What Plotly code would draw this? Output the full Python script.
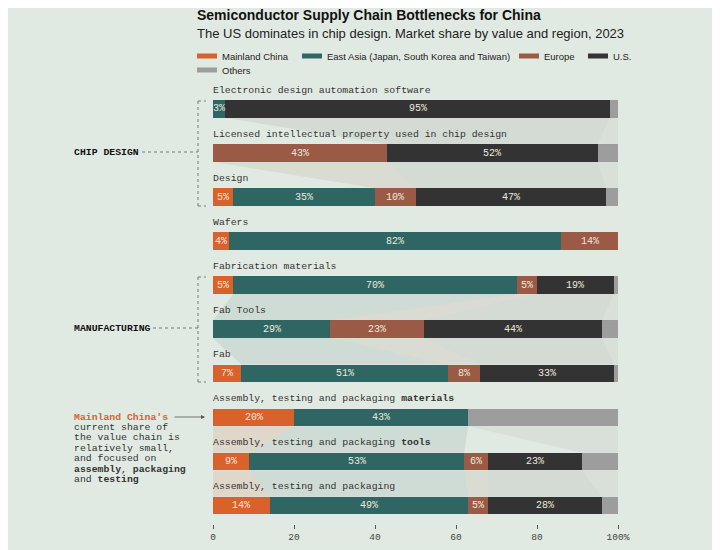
import plotly.graph_objects as go

# ---------------- data ----------------
rows = [
    "Electronic design automation software",
    "Licensed intellectual property used in chip design",
    "Design",
    "Wafers",
    "Fabrication materials",
    "Fab Tools",
    "Fab",
    "Assembly, testing and packaging <b>materials</b>",
    "Assembly, testing and packaging <b>tools</b>",
    "Assembly, testing and packaging",
]
row_group = [0, 0, 0, 1, 2, 2, 2, 3, 3, 3]

mainland_china = [0, 0, 5, 4, 5, 0, 7, 20, 9, 14]
east_asia = [3, 0, 35, 82, 70, 29, 51, 43, 53, 49]
europe = [0, 43, 10, 14, 5, 23, 8, 0, 6, 5]
us = [95, 52, 47, 0, 19, 44, 33, 0, 23, 28]
others = [2, 5, 3, 0, 1, 4, 1, 37, 9, 4]

series_names = ["Mainland China", "East Asia (Japan, South Korea and Taiwan)",
                "Europe", "U.S.", "Others"]
series_values = [mainland_china, east_asia, europe, us, others]
series_colors = ["#d9612c", "#2f6664", "#9b5a45", "#333333", "#9d9d9d"]
band_colors = ["rgba(217,97,44,0.13)", "rgba(47,102,100,0.10)",
               "rgba(155,90,69,0.10)", "rgba(51,51,51,0.08)",
               "rgba(120,120,120,0.08)"]
labelled = [True, True, True, True, False]

tick_vals = [0, 20, 40, 60, 80, 100]
tick_text = ["0", "20", "40", "60", "80", "100%"]

group_labels = ["CHIP DESIGN", "MANUFACTURING"]

# ---------------- style ----------------
BG = "#e1eae2"
MONO = "Liberation Mono, DejaVu Sans Mono, monospace"
SANS = "Liberation Sans, Arial, sans-serif"
W, H = 720, 550
OFF = 8  # page body margin
PL, PR, PT, PB = 213, 618, 80, 524  # plot box in screen pixels
L, T = PL - OFF, PT - OFF
R, B = W - (PR - OFF), H - (PB - OFF)
BAR_W = 0.40
y_idx = list(range(len(rows)))

def px(xp):
    return (xp - PL) / (PR - PL)

def py(yp):
    return (PB - yp) / (PB - PT)

fig = go.Figure()

# stacked bars
for name, vals, col in zip(series_names, series_values, series_colors):
    fig.add_trace(go.Bar(
        y=y_idx, x=vals, orientation="h", name=name,
        marker=dict(color=col, line=dict(width=0)),
        width=BAR_W, showlegend=False, hoverinfo="skip",
    ))

# cumulative starts
starts = []
for i in y_idx:
    s = 0
    row_starts = []
    for vals in series_values:
        row_starts.append(s)
        s += vals[i]
    starts.append(row_starts)

# flow bands between consecutive bars within a group
for i in y_idx[:-1]:
    j = i + 1
    if row_group[i] != row_group[j]:
        continue
    for k, vals in enumerate(series_values):
        if vals[i] > 0 and vals[j] > 0:
            a0, a1 = starts[i][k], starts[i][k] + vals[i]
            b0, b1 = starts[j][k], starts[j][k] + vals[j]
            yt, yb = i + BAR_W / 2, j - BAR_W / 2
            fig.add_trace(go.Scatter(
                x=[a0, a1, b1, b0, a0], y=[yt, yt, yb, yb, yt],
                mode="lines", fill="toself", fillcolor=band_colors[k],
                line=dict(width=0), showlegend=False, hoverinfo="skip",
            ))

annotations = []
shapes = []

# segment value labels
for i in y_idx:
    for k, vals in enumerate(series_values):
        v = vals[i]
        if v > 0 and labelled[k]:
            annotations.append(dict(
                x=starts[i][k] + v / 2, y=i, xref="x", yref="y",
                text=f"{v}%", showarrow=False,
                font=dict(family=MONO, size=10, color="#efe9dd"),
            ))

# row labels
for i, lab in enumerate(rows):
    annotations.append(dict(
        x=0, y=i - 0.43, xref="x", yref="y", text=lab, showarrow=False,
        xanchor="left", yanchor="middle", xshift=-2,
        font=dict(family=MONO, size=9.8, color="#333333"),
    ))

# title / subtitle
annotations.append(dict(
    x=px(197), y=py(15), xref="paper", yref="paper", xanchor="left",
    yanchor="middle", showarrow=False, xshift=-2,
    text="<b>Semiconductor Supply Chain Bottlenecks for China</b>",
    font=dict(family=SANS, size=14, color="#111111"),
))
annotations.append(dict(
    x=px(197), y=py(33), xref="paper", yref="paper", xanchor="left",
    yanchor="middle", showarrow=False, xshift=-2,
    text="The US dominates in chip design. Market share by value and region, 2023",
    font=dict(family=SANS, size=13, color="#222222"),
))

# manual legend
legend_pos = [(197, 56), (302, 56), (519, 56), (588, 56), (197, 70)]
for (lx, ly), name, col in zip(legend_pos, series_names, series_colors):
    shapes.append(dict(type="rect", xref="paper", yref="paper",
                       x0=px(lx), x1=px(lx + 20), y0=py(ly - 2.5), y1=py(ly + 2.5),
                       fillcolor=col, line=dict(width=0)))
    annotations.append(dict(
        x=px(lx + 25), y=py(ly), xref="paper", yref="paper", xanchor="left",
        yanchor="middle", showarrow=False, text=name, xshift=-2,
        font=dict(family=SANS, size=9.5, color="#222222"),
    ))

# group brackets
brackets = [(group_labels[0], 152, 101, 206, 142), (group_labels[1], 328, 277, 382, 153)]
dot = dict(color="#777777", width=1, dash="dot")
for lab, yc, y0, y1, lx_end in brackets:
    annotations.append(dict(
        x=px(74), y=py(yc), xref="paper", yref="paper", xanchor="left",
        yanchor="middle", showarrow=False, text=f"<b>{lab}</b>", xshift=-2,
        font=dict(family=MONO, size=9.8, color="#111111"),
    ))
    shapes.append(dict(type="line", xref="paper", yref="paper",
                       x0=px(lx_end), x1=px(198), y0=py(yc), y1=py(yc), line=dot))
    shapes.append(dict(type="line", xref="paper", yref="paper",
                       x0=px(198), x1=px(198), y0=py(y0), y1=py(y1), line=dot))
    shapes.append(dict(type="line", xref="paper", yref="paper",
                       x0=px(198), x1=px(206), y0=py(y0), y1=py(y0), line=dot))
    shapes.append(dict(type="line", xref="paper", yref="paper",
                       x0=px(198), x1=px(206), y0=py(y1), y1=py(y1), line=dot))

# Mainland China note
note_lines = [
    ("<b>Mainland China's</b>", "#d9612c"),
    ("current share of", "#333333"),
    ("the value chain is", "#333333"),
    ("relatively small,", "#333333"),
    ("and focused on", "#333333"),
    ("<b>assembly</b>, <b>packaging</b>", "#333333"),
    ("and <b>testing</b>", "#333333"),
]
for n, (txt, col) in enumerate(note_lines):
    annotations.append(dict(
        x=px(74), y=py(417 + n * 10.4), xref="paper", yref="paper",
        xanchor="left", yanchor="middle", showarrow=False, text=txt, xshift=-2,
        font=dict(family=MONO, size=9.8, color=col),
    ))
annotations.append(dict(
    x=px(205), y=py(417), xref="paper", yref="paper", text="",
    showarrow=True, ax=-32, ay=0, arrowhead=2, arrowsize=1,
    arrowwidth=0.8, arrowcolor="#555555",
))

fig.update_layout(
    width=W, height=H, barmode="stack",
    paper_bgcolor=BG, plot_bgcolor=BG,
    margin=dict(l=L, r=R, t=T, b=B),
    xaxis=dict(range=[0, 100], tickvals=tick_vals, ticktext=tick_text,
               showgrid=False, zeroline=False, showline=False,
               ticks="outside", ticklen=4, tickwidth=1, tickcolor="#555555",
               tickfont=dict(family=MONO, size=9.5, color="#444444"),
               fixedrange=True),
    yaxis=dict(range=[9.42, -0.658], showgrid=False, zeroline=False,
               showline=False, showticklabels=False, fixedrange=True),
    annotations=annotations, shapes=shapes, bargap=0,
)

fig.write_html("out.html")
